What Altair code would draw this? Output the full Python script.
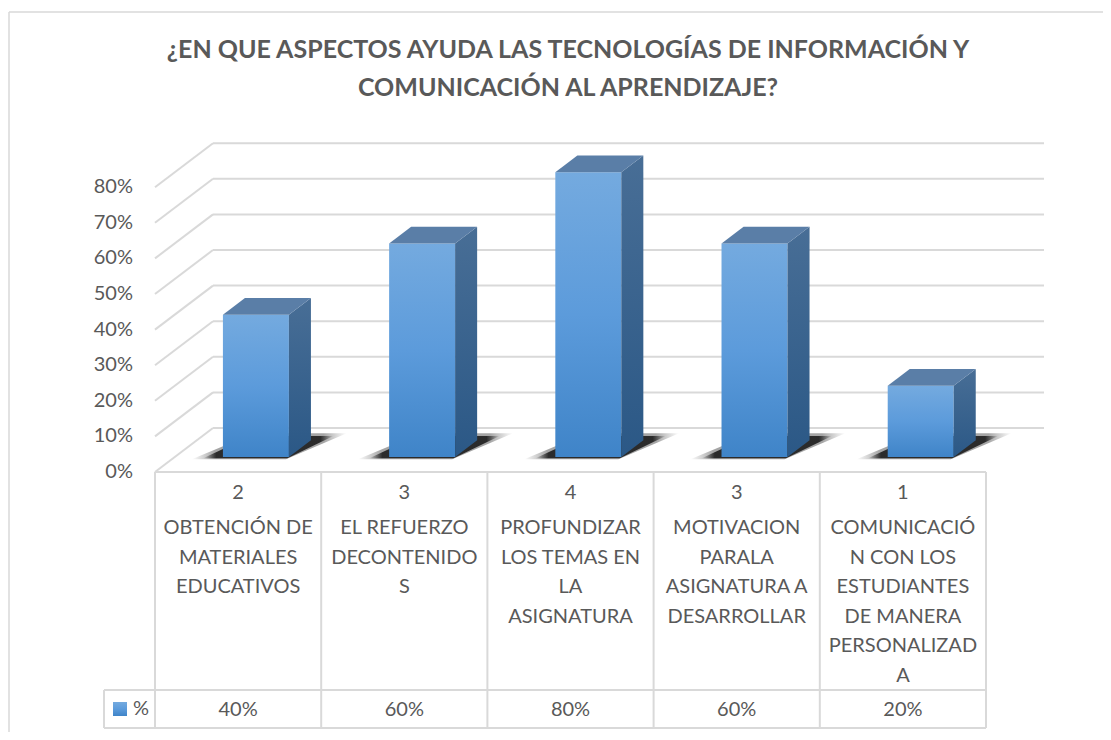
import altair as alt
import pandas as pd

# ---------------- data ----------------
title_lines = ["¿EN QUE ASPECTOS AYUDA LAS TECNOLOGÍAS DE INFORMACIÓN Y",
               "COMUNICACIÓN AL APRENDIZAJE?"]
categories = ["OBTENCIÓN DE MATERIALES EDUCATIVOS",
              "EL REFUERZO DECONTENIDOS",
              "PROFUNDIZAR LOS TEMAS EN LA ASIGNATURA",
              "MOTIVACION PARALA ASIGNATURA A DESARROLLAR",
              "COMUNICACIÓN CON LOS ESTUDIANTES DE MANERA PERSONALIZADA"]
label_lines = [["OBTENCIÓN DE", "MATERIALES", "EDUCATIVOS"],
               ["EL REFUERZO", "DECONTENIDO", "S"],
               ["PROFUNDIZAR", "LOS TEMAS EN", "LA", "ASIGNATURA"],
               ["MOTIVACION", "PARALA", "ASIGNATURA A", "DESARROLLAR"],
               ["COMUNICACIÓ", "N CON LOS", "ESTUDIANTES", "DE MANERA", "PERSONALIZAD", "A"]]
counts = [2, 3, 4, 3, 1]
percents = [40, 60, 80, 60, 20]
y_ticks = [0, 10, 20, 30, 40, 50, 60, 70, 80]
series_name = "%"

# ---------------- layout ----------------
W, H = 1095, 724
SLOT = 166.2          # px per category slot
X0 = 147.0            # px of slot 0 left edge
PPP = 3.56            # px per percent
FLOOR_Y = 464.0       # px of front floor (0 %)
U_DOM = [-X0 / SLOT, (W - X0) / SLOT]
V_DOM = [(FLOOR_Y - H) / PPP, FLOOR_Y / PPP]
DX = 58.0 / SLOT      # depth shift in x units
DY = 44.0 / PPP       # depth shift in y units
BAR_OFF, BAR_W = 0.29, 0.397
D0, DD = 0.34, 0.38
N = len(categories)

def pu(px):
    return (px - X0) / SLOT

def pv(py):
    return (FLOOR_Y - py) / PPP

GRID = "#d9d9d9"
TXT = "#595959"
FONT = "Lato"

xs = alt.Scale(domain=U_DOM, nice=False, zero=False)
ys = alt.Scale(domain=V_DOM, nice=False, zero=False)

def X(f):
    return alt.X(f, type="quantitative", scale=xs, axis=None)

def Y(f):
    return alt.Y(f, type="quantitative", scale=ys, axis=None)

# ---------------- tables ----------------
bars = pd.DataFrame({"i": range(N), "pct": percents, "cat": categories})
bars["fl"] = bars["i"] + BAR_OFF + DX * D0
bars["fr"] = bars["fl"] + BAR_W
bars["yb"] = DY * D0
bars["yt"] = bars["pct"] + DY * D0

def shadow_table(ext_l, ext_r, d_front, d_back):
    rows = []
    for i, p in enumerate(percents):
        for t in (0.0, 1.0):
            depth = D0 - d_front + t * (DD + d_front + d_back)
            left = i + BAR_OFF - ext_l * (1 - t)
            right = i + BAR_OFF + BAR_W + ext_r * t
            rows.append({"id": i, "y": DY * depth,
                         "x": left + DX * depth, "x2": right + DX * depth})
    return pd.DataFrame(rows)

top_rows, side_rows = [], []
for i, p in enumerate(percents):
    fl = i + BAR_OFF + DX * D0
    fr = fl + BAR_W
    for t in (0.0, 1.0):
        top_rows.append({"id": i, "y": p + DY * (D0 + t * DD),
                         "x": fl + t * DX * DD, "x2": fr + t * DX * DD})
        side_rows.append({"id": i, "x": fr + t * DX * DD,
                          "y": DY * (D0 + t * DD), "y2": p + DY * (D0 + t * DD)})
top_df = pd.DataFrame(top_rows)
side_df = pd.DataFrame(side_rows)
shadow_outer = shadow_table(0.17, 0.16, 0.05, 0.16)
shadow_inner = shadow_table(0.11, 0.10, 0.025, 0.10)

grid_rows = []
for v in y_ticks:
    grid_rows.append({"x": 0, "x2": DX, "y": v, "y2": v + DY})
    grid_rows.append({"x": DX, "x2": N + DX, "y": v + DY, "y2": v + DY})
grid_df = pd.DataFrame(grid_rows)

tab_rows = []
for k in range(N + 1):
    tab_rows.append({"x": k, "x2": k, "y": 0, "y2": pv(720)})
tab_rows.append({"x": 0, "x2": N, "y": 0, "y2": 0})
tab_rows.append({"x": pu(96), "x2": N, "y": pv(682), "y2": pv(682)})
tab_rows.append({"x": pu(96), "x2": N, "y": pv(720), "y2": pv(720)})
tab_rows.append({"x": pu(96), "x2": pu(96), "y": pv(682), "y2": pv(720)})
tab_df = pd.DataFrame(tab_rows)

frame_df = pd.DataFrame([{"x": pu(1), "x2": U_DOM[1], "y": pv(4), "y2": pv(4)},
                         {"x": pu(1), "x2": pu(1), "y": pv(4), "y2": V_DOM[0]}])

lab_df = pd.DataFrame({"uc": [i + 0.5 for i in range(N)],
                       "cnt": [str(c) for c in counts],
                       "lab": ["\n".join(l) for l in label_lines],
                       "pl": [f"{p}%" for p in percents]})
tick_df = pd.DataFrame({"v": y_ticks, "t": [f"{v}%" for v in y_ticks]})
title_df = pd.DataFrame({"t": title_lines})

# ---------------- marks ----------------
front_grad = alt.Gradient(gradient="linear", x1=0, x2=0, y1=0, y2=1, stops=[
    alt.GradientStop(color="#74aadf", offset=0),
    alt.GradientStop(color="#5c9bdb", offset=0.5),
    alt.GradientStop(color="#3f84c8", offset=1)])
side_grad = alt.Gradient(gradient="linear", x1=0, x2=0, y1=0, y2=1, stops=[
    alt.GradientStop(color="#486e96", offset=0),
    alt.GradientStop(color="#2b5886", offset=1)])

def sh_grad(a, e):
    return alt.Gradient(gradient="linear", x1=0, x2=1, y1=0, y2=0, stops=[
        alt.GradientStop(color="rgba(40,40,40,0)", offset=0),
        alt.GradientStop(color=f"rgba(30,30,30,{a})", offset=e),
        alt.GradientStop(color=f"rgba(30,30,30,{a})", offset=1 - e),
        alt.GradientStop(color="rgba(40,40,40,0)", offset=1)])

frame = alt.Chart(frame_df).mark_rule(color=GRID, strokeWidth=1.5).encode(
    x=X("x"), x2="x2", y=Y("y"), y2="y2")
grid = alt.Chart(grid_df).mark_rule(color=GRID, strokeWidth=2).encode(
    x=X("x"), x2="x2", y=Y("y"), y2="y2")
table = alt.Chart(tab_df).mark_rule(color=GRID, strokeWidth=2).encode(
    x=X("x"), x2="x2", y=Y("y"), y2="y2")

shadow1 = alt.Chart(shadow_outer).mark_area(orient="horizontal", color=sh_grad(0.4, 0.15)).encode(
    y=Y("y"), x=X("x"), x2="x2", detail="id:N")
shadow2 = alt.Chart(shadow_inner).mark_area(orient="horizontal", color=sh_grad(0.9, 0.1)).encode(
    y=Y("y"), x=X("x"), x2="x2", detail="id:N")
front = alt.Chart(bars).mark_rect(color=front_grad).encode(
    x=X("fl"), x2="fr", y=Y("yb"), y2="yt", tooltip=["cat", "pct"])
side = alt.Chart(side_df).mark_area(orient="vertical", color=side_grad).encode(
    x=X("x"), y=Y("y"), y2="y2", detail="id:N")
top = alt.Chart(top_df).mark_area(orient="horizontal", color="#5a7ea7").encode(
    y=Y("y"), x=X("x"), x2="x2", detail="id:N")

ylab = alt.Chart(tick_df).mark_text(align="right", baseline="middle", fontSize=20,
                                    font=FONT, color=TXT).encode(
    x=alt.value(125), y=Y("v"), text="t:N")
cnt = alt.Chart(lab_df).mark_text(align="center", baseline="middle", fontSize=20,
                                  font=FONT, color=TXT).encode(
    x=X("uc"), y=alt.value(485), text="cnt:N")
cat = alt.Chart(lab_df).mark_text(align="center", baseline="top", fontSize=20,
                                  font=FONT, color=TXT, lineBreak="\n",
                                  lineHeight=29.5).encode(
    x=X("uc"), y=alt.value(510), text="lab:N")
pl = alt.Chart(lab_df).mark_text(align="center", baseline="middle", fontSize=20,
                                 font=FONT, color=TXT).encode(
    x=X("uc"), y=alt.value(702), text="pl:N")

leg_sq = alt.Chart(pd.DataFrame({"s": [series_name]})).mark_rect(color=front_grad).encode(
    x=alt.value(105), x2=alt.value(119), y=alt.value(694), y2=alt.value(708))
leg_tx = alt.Chart(pd.DataFrame({"s": [series_name]})).mark_text(
    align="left", baseline="middle", fontSize=20, font=FONT, color=TXT).encode(
    x=alt.value(125), y=alt.value(701), text="s:N")

t1 = alt.Chart(title_df.iloc[[0]]).mark_text(
    align="center", baseline="middle", fontSize=25, font=FONT, fontWeight="bold",
    color=TXT).encode(x=alt.value(560), y=alt.value(42), text="t:N")
t2 = alt.Chart(title_df.iloc[[1]]).mark_text(
    align="center", baseline="middle", fontSize=25, font=FONT, fontWeight="bold",
    color=TXT).encode(x=alt.value(560), y=alt.value(80), text="t:N")

chart = alt.layer(frame, grid, table, shadow1, shadow2, front, side, top,
                  ylab, cnt, cat, pl, leg_sq, leg_tx, t1, t2).properties(
    width=W, height=H, autosize="none", padding=0, background="white"
).configure_view(stroke=None)

chart.save("out.html", embed_options={"renderer": "svg", "actions": False})
